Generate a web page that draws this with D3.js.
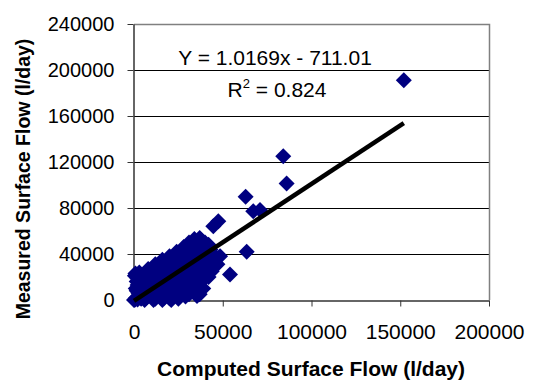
<!DOCTYPE html>
<html>
<head>
<meta charset="utf-8">
<script src="https://cdn.jsdelivr.net/npm/d3@7"></script>
<style>
  html, body { margin: 0; padding: 0; background: #fff; }
  svg { display: block; }
  text { font-family: "Liberation Sans", Arial, sans-serif; }
</style>
</head>
<body>
<svg id="chart" width="533" height="384"></svg>
<script>
// ---- Data ----
const computedFlow = [
  0, 500, 1000, 2000, 3000, 4000, 5000, 2500, 4500, 1000, 3500, 1500, 500, 800, 2000, 3000,
  6000, 7000, 8000, 9000, 6500, 7500, 9500, 8500, 10000, 5500, 7000, 8000,
  11000, 12000, 13000, 14000, 11500, 12500, 13500, 14500, 10500, 12000, 14000, 15000, 11000, 12000,
  16000, 17000, 18000, 19000, 16500, 17500, 18500, 19500, 16000, 18000, 20000, 19000, 17000, 16000,
  21000, 22000, 23000, 24000, 21000, 22000, 23000, 24000, 21500, 25000, 20500, 25000, 23500, 20000, 24000,
  26000, 27000, 28000, 29000, 26000, 27000, 28000, 29000, 26500, 30000, 30000, 27500, 28000,
  31000, 32000, 33000, 34000, 31000, 32000, 33000, 34000, 31500, 35000, 35000, 33500, 30500, 31000,
  35500, 36000, 37000, 38000, 36000, 37000, 38000, 39000, 36000, 37000, 38000, 40000, 39500, 36500, 34000,
  1500, 3000, 4000, 6000, 9000, 5000, 2000, 8000, 10000, 13000, 15000, 17000, 19000, 21000, 23000,
  25000, 27000, 29000, 31000, 33000, 35000, 10000, 13000, 15000, 18000, 20000, 22000, 24000, 26000,
  28000, 30000, 32000, 34000, 36000, 38000, 40000, 41000, 43000, 39000, 37000, 33000, 29000, 25000,
  20000, 44000, 47000, 40000, 38000,
  42000, 41000, 43800, 46600, 44000, 45000, 42000, 48500,
  44700, 47500, 54100, 63500, 62900, 67200, 71000, 84100, 86000, 152000
];
const measuredFlow = [
  0, 300, 1500, 500, 2500, 1000, 4000, 6000, 7500, 10000, 12000, 16000, 21000, 23000, 19000, 24000,
  0, 2000, 5000, 8000, 9500, 12000, 14000, 11000, 3000, 13000, 16000, 27000,
  0, 1000, 4000, 6000, 9000, 12000, 15000, 18000, 14000, 17000, 20000, 10000, 20000, 31000,
  0, 2000, 5000, 8000, 12000, 16000, 20000, 24000, 22000, 26000, 14000, 11000, 9000, 35000,
  0, 3000, 7000, 10000, 17000, 21000, 25000, 29000, 28000, 32000, 24000, 15000, 13000, 38000, 42000,
  4000, 8000, 12000, 16000, 20000, 24000, 30000, 34000, 36000, 38000, 22000, 18000, 46000,
  5000, 10000, 15000, 20000, 28000, 33000, 38000, 42000, 42000, 46000, 30000, 25000, 12000, 50000,
  3500, 10000, 12000, 16000, 25000, 30000, 35000, 40000, 50000, 54000, 48000, 44000, 28000, 39000, 53000,
  8000, 15000, 19000, 21000, 24000, 10000, 13000, 19000, 22000, 25000, 28000, 30000, 33000, 35000, 37000,
  40000, 43000, 40000, 45000, 48000, 50000, 8000, 10000, 5000, 10000, 6000, 12000, 18000, 26000,
  22000, 30000, 26000, 34000, 31000, 24000, 20000, 36000, 44000, 10000, 5000, 8000, 3000, 1000,
  1500, 28000, 31000, 50000, 52000,
  48000, 29000, 25000, 36700, 40000, 32000, 20000, 38100,
  64200, 68500, 22200, 42000, 89700, 77200, 78300, 125000, 101300, 191000
];
const xTickValues = [0, 50000, 100000, 150000, 200000];
const yTickValues = [0, 40000, 80000, 120000, 160000, 200000, 240000];
const trendSlope = 1.0169;
const trendIntercept = -711.01;
const trendRange = [0, 152000];
const equationText = "Y = 1.0169x - 711.01";
const r2Value = "0.824";
const xTitle = "Computed Surface Flow (l/day)";
const yTitle = "Measured Surface Flow (l/day)";

// ---- Drawing ----
const svg = d3.select("#chart");
svg.append("rect").attr("width", 533).attr("height", 384).attr("fill", "#fff");

const x = d3.scaleLinear().domain([0, 200000]).range([134, 489]);
const y = d3.scaleLinear().domain([0, 240000]).range([300, 24]);

// gridlines
svg.append("g").selectAll("line")
  .data(yTickValues.filter(v => v > 0 && v < 240000))
  .join("line")
  .attr("x1", x(0)).attr("x2", x(200000))
  .attr("y1", d => Math.round(y(d)) + 0.5).attr("y2", d => Math.round(y(d)) + 0.5)
  .attr("stroke", "#000").attr("stroke-width", 1);

// plot border (top/right) gray
svg.append("path")
  .attr("d", `M${x(0)},${y(240000) + 0.5}H${x(200000) + 0.5}V${y(0)}`)
  .attr("fill", "none").attr("stroke", "#808080").attr("stroke-width", 1.5);

// axes
const xAxis = d3.axisBottom(x).tickValues(xTickValues).tickFormat(d3.format("d")).tickSize(6).tickSizeOuter(0);
const yAxis = d3.axisLeft(y).tickValues(yTickValues).tickFormat(d3.format("d")).tickSize(6).tickSizeOuter(0);

const gx = svg.append("g").attr("transform", `translate(0,${y(0) + 0.5})`).call(xAxis);
gx.select(".domain").attr("stroke", "#333").attr("stroke-width", 1.5);
gx.selectAll(".tick line").attr("stroke", "#333");
gx.selectAll(".tick text").attr("font-size", 21).attr("font-family", "Liberation Sans, Arial, sans-serif")
  .attr("fill", "#000").attr("y", 24);

const gy = svg.append("g").attr("transform", `translate(${x(0) - 0.5},0)`).call(yAxis);
gy.select(".domain").attr("stroke", "#333").attr("stroke-width", 1.5);
gy.selectAll(".tick line").attr("stroke", "#333");
gy.selectAll(".tick text").attr("font-size", 20).attr("font-family", "Liberation Sans, Arial, sans-serif")
  .attr("fill", "#000").attr("x", -19);

// points
const pts = computedFlow.map((c, i) => ({ c, m: measuredFlow[i] }));
svg.append("g").selectAll("path")
  .data(pts)
  .join("path")
  .attr("transform", d => `translate(${x(d.c)},${y(d.m)})`)
  .attr("d", "M0,-8L8,0L0,8L-8,0Z")
  .attr("fill", "#000080");

// trend line
const line = d3.line().x(d => x(d)).y(d => y(trendSlope * d + trendIntercept));
svg.append("path")
  .attr("d", line(trendRange))
  .attr("fill", "none").attr("stroke", "#000").attr("stroke-width", 4.5);

// equation
svg.append("text").attr("x", 275).attr("y", 65).attr("text-anchor", "middle")
  .attr("font-size", 21).text(equationText);
const r2 = svg.append("text").attr("x", 277).attr("y", 97).attr("text-anchor", "middle").attr("font-size", 21);
r2.append("tspan").text("R");
r2.append("tspan").attr("font-size", 13).attr("dy", -9).text("2");
r2.append("tspan").attr("dy", 9).text(" = " + r2Value);

// axis titles
svg.append("text").attr("x", 311).attr("y", 376).attr("text-anchor", "middle")
  .attr("font-size", 21).attr("font-weight", "bold").text(xTitle);
svg.append("text").attr("transform", "translate(30,179) rotate(-90)").attr("text-anchor", "middle")
  .attr("font-size", 19.5).attr("font-weight", "bold").text(yTitle);
</script>
</body>
</html>
